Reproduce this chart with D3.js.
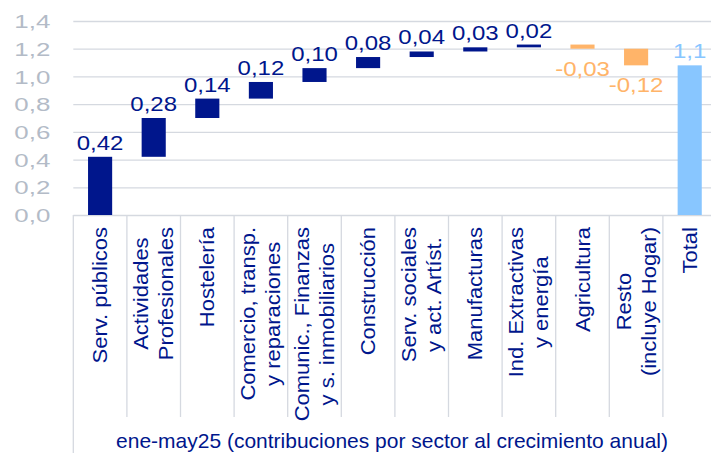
<!DOCTYPE html>
<html>
<head>
<meta charset="utf-8">
<script src="https://cdn.jsdelivr.net/npm/d3@7"></script>
<style>
  body { margin: 0; background: #fff; }
  svg { display: block; font-family: "Liberation Sans", Arial, sans-serif; }
</style>
</head>
<body>
<div id="chart"></div>
<script>
// sectores (salto de línea = segunda línea de la etiqueta)
let sectors = [
  "Serv. públicos",
  "Actividades\nProfesionales",
  "Hostelería",
  "Comercio, transp.\ny reparaciones",
  "Comunic., Finanzas\ny s. inmobiliarios",
  "Construcción",
  "Serv. sociales\ny act. Artíst.",
  "Manufacturas",
  "Ind. Extractivas\ny energía",
  "Agricultura",
  "Resto\n(incluye Hogar)",
  "Total"
];
let contributions = [0.42, 0.28, 0.14, 0.12, 0.10, 0.08, 0.04, 0.03, 0.02, -0.03, -0.12];
let totalValue = 1.08;
let yTicks = [0, 0.2, 0.4, 0.6, 0.8, 1.0, 1.2, 1.4];
let xTitle = "ene-may25 (contribuciones por sector al crecimiento anual)";

let width = 711;
let height = 453;
let navy = "#00168c";
let orange = "#ffb469";
let lightBlue = "#88c6ff";
let greyText = "#b3bbc7";
let gridColor = "#d5d9e0";

let es = d3.formatLocale({ decimal: ",", thousands: ".", grouping: [3], currency: ["", " €"], minus: "-" });

// waterfall: base y fin de cada barra
let rows = [];
let run = 0;
contributions.forEach((v, i) => {
  rows.push({ name: sectors[i], start: run, end: run + v, value: v, type: v >= 0 ? "pos" : "neg" });
  run += v;
});
rows.push({ name: sectors[sectors.length - 1], start: 0, end: totalValue, value: totalValue, type: "total" });

let svg = d3.select('#chart').append('svg')
  .attr('width', width).attr('height', height);

let left = 73.3;
let step = 53.6;
let xScale = d3.scaleBand()
  .domain(sectors)
  .range([left, left + step * sectors.length])
  .paddingInner(0.55)
  .paddingOuter(0.275);
let yScale = d3.scaleLinear()
  .domain([0, 1.4])
  .range([215, 21]);

// rejilla y eje Y
let yAxis = d3.axisLeft(yScale)
  .tickValues(yTicks)
  .tickSize(-(width - left))
  .tickFormat(es.format(".1f"));
let yG = svg.append('g')
  .attr('transform', 'translate(' + left + ',0)')
  .call(yAxis);
yG.select('.domain').remove();
yG.selectAll('line').attr('stroke', gridColor).attr('stroke-width', 1.3);
yG.selectAll('text')
  .attr('fill', greyText)
  .attr('font-size', 18.5)
  .attr('x', -23 / 1.4)
  .attr('dy', '0.36em')
  .attr('transform', 'scale(1.4,1)')
  .attr('font-family', '"Liberation Sans", Arial, sans-serif');

// separadores de categorías
let sepX = d3.range(sectors.length + 1).map(i => left + i * xScale.step());
svg.append('g').selectAll('line')
  .data(sepX)
  .enter().append('line')
  .attr('x1', d => d).attr('x2', d => d)
  .attr('y1', 215)
  .attr('y2', (d, i) => i === 0 ? height : 417)
  .attr('stroke', gridColor)
  .attr('stroke-width', 1.3);

// barras
let color = { pos: navy, neg: orange, total: lightBlue };
svg.append('g').selectAll('rect')
  .data(rows)
  .enter().append('rect')
  .attr('x', d => xScale(d.name))
  .attr('width', xScale.bandwidth())
  .attr('y', d => yScale(Math.max(d.start, d.end)))
  .attr('height', d => Math.abs(yScale(d.start) - yScale(d.end)))
  .attr('fill', d => color[d.type]);

// etiquetas de valor
svg.append('g').selectAll('text')
  .data(rows)
  .enter().append('text')
  .attr('transform', d => {
    let cx = xScale(d.name) + xScale.bandwidth() / 2;
    let y = d.type === 'neg'
      ? yScale(Math.min(d.start, d.end)) + 27
      : yScale(Math.max(d.start, d.end)) - 7;
    return 'translate(' + cx + ',' + y + ') scale(1.2,1)';
  })
  .attr('text-anchor', 'middle')
  .attr('font-size', 20)
  .attr('fill', d => color[d.type])
  .text(d => d.type === 'total' ? es.format(".1f")(d.value) : es.format(".2f")(d.value));

// etiquetas de categoría (giradas, bloque alineado arriba, líneas centradas)
let stretch = 1.1;
let catG = svg.append('g').selectAll('g')
  .data(sectors)
  .enter().append('g')
  .attr('transform', d => 'translate(' + (xScale(d) + xScale.bandwidth() / 2) + ',227) rotate(-90) scale(' + stretch + ',1)');
catG.each(function (d) {
  let lines = d.split('\n');
  let g = d3.select(this);
  let texts = lines.map((ln, j) => g.append('text')
    .attr('y', (j - (lines.length - 1) / 2) * 25)
    .attr('dy', '0.35em')
    .attr('text-anchor', 'middle')
    .attr('font-size', 20)
    .attr('fill', navy)
    .text(ln));
  let maxLen = d3.max(texts, t => t.node().getComputedTextLength());
  texts.forEach(t => t.attr('x', -maxLen / 2));
});

// título del eje X
svg.append('text')
  .attr('transform', 'translate(392,448) scale(1.05,1)')
  .attr('text-anchor', 'middle')
  .attr('font-size', 20)
  .attr('fill', navy)
  .text(xTitle);
</script>
</body>
</html>
